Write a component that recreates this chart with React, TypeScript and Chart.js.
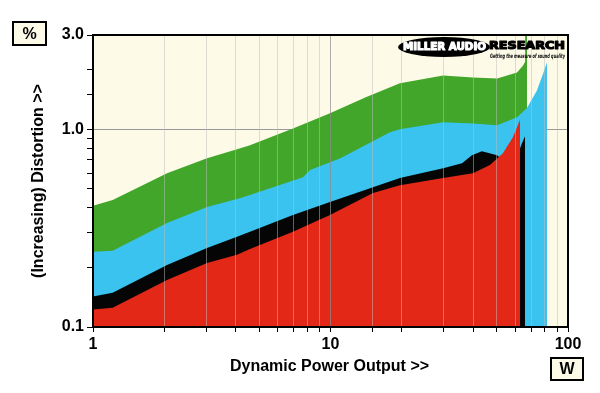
import React, { useEffect, useRef } from "react";
import { Chart, registerables } from "chart.js";

Chart.register(...registerables);

// ---- data (power in W, distortion in %) ----
const greenPower = [1.0, 1.21, 2.05, 3.02, 4.04, 4.58, 6.95, 9.95, 14.0, 19.6, 29.8, 39.8, 50.3, 61.0, 64.7, 66.0, 66.0, 67.2, 67.2];
const greenDist = [0.411, 0.439, 0.6, 0.714, 0.793, 0.83, 1.01, 1.205, 1.45, 1.71, 1.87, 1.83, 1.81, 1.94, 2.1, 2.2, 3.0, 3.0, 0.1];

const cyanPower = [1.0, 1.21, 2.05, 3.02, 4.04, 4.58, 7.66, 8.2, 11.0, 17.8, 19.6, 29.8, 39.8, 50.3, 61.0, 67.2, 74.0, 78.5, 81.6, 81.6];
const cyanDist = [0.24, 0.243, 0.336, 0.405, 0.444, 0.465, 0.573, 0.622, 0.714, 0.966, 1.0, 1.085, 1.07, 1.05, 1.15, 1.28, 1.57, 1.91, 2.18, 0.1];

const blackPower = [1.0, 1.21, 2.05, 3.02, 4.04, 4.58, 6.95, 9.95, 19.6, 29.8, 35.8, 39.4, 43.4, 50.3, 53.2, 58.6, 62.8, 63.5, 65.9, 65.9];
const blackDist = [0.1425, 0.149, 0.206, 0.251, 0.286, 0.303, 0.369, 0.429, 0.567, 0.636, 0.674, 0.739, 0.775, 0.739, 0.7, 0.78, 0.8, 0.83, 0.922, 0.1];

const redPower = [1.0, 1.21, 2.05, 3.02, 4.04, 4.58, 6.95, 9.95, 15.1, 19.6, 29.8, 39.8, 46.9, 53.2, 58.6, 62.8, 62.8];
const redDist = [0.1225, 0.125, 0.173, 0.211, 0.232, 0.248, 0.303, 0.369, 0.476, 0.522, 0.567, 0.6, 0.659, 0.757, 0.911, 1.12, 0.1];

const xTickLabels = [1, 10, 100];
const yTickLabels = [0.1, 1, 3];
const xMin = 1, xMax = 100, yMin = 0.1, yMax = 3.0;

const xTitle = "Dynamic Power Output >>";
const yTitle = "(Increasing) Distortion >>";
const yUnit = "%";
const xUnit = "W";
const logoA = "MILLER AUDIO";
const logoB = "RESEARCH";
const logoTag = "Getting the measure of sound quality";

const CREAM = "#fdfae8";
const GREEN = "#42a62a";
const CYAN = "#3ac3ee";
const BLACK = "#050505";
const RED = "#e42817";
const FONT = '"Liberation Sans", Arial, sans-serif';

const zip = (xs: number[], ys: number[]) => xs.map((x, i) => ({ x, y: ys[i] }));
const near = (a: number, b: number) => Math.abs(a - b) < 1e-6 * Math.max(1, b);

function fitText(ctx: CanvasRenderingContext2D, text: string, left: number, width: number, y: number, font: string, color: string, heavy = 0) {
  ctx.save();
  ctx.font = font;
  const m = ctx.measureText(text).width;
  ctx.translate(left, y);
  ctx.scale(width / m, 1);
  ctx.fillStyle = color;
  ctx.textAlign = "left";
  ctx.textBaseline = "middle";
  if (heavy > 0) {
    ctx.strokeStyle = color;
    ctx.lineWidth = heavy;
    ctx.lineJoin = "round";
    ctx.strokeText(text, 0, 0);
  }
  ctx.fillText(text, 0, 0);
  ctx.restore();
}

function unitBox(ctx: CanvasRenderingContext2D, x: number, y: number, w: number, h: number, t: string) {
  ctx.save();
  ctx.fillStyle = CREAM;
  ctx.fillRect(x, y, w, h);
  ctx.lineWidth = 2;
  ctx.strokeStyle = "#000";
  ctx.strokeRect(x, y, w, h);
  ctx.fillStyle = "#000";
  ctx.font = `bold 16px ${FONT}`;
  ctx.textAlign = "center";
  ctx.textBaseline = "middle";
  ctx.fillText(t, x + w / 2, y + h / 2 + 1);
  ctx.restore();
}

const decor = {
  id: "decor",
  beforeDraw(chart: any) {
    const { ctx, chartArea: a } = chart;
    ctx.save();
    ctx.fillStyle = "#fff";
    ctx.fillRect(0, 0, chart.width, chart.height);
    ctx.fillStyle = CREAM;
    ctx.fillRect(a.left, a.top, a.right - a.left, a.bottom - a.top);
    ctx.restore();
  },
  afterDraw(chart: any) {
    const { ctx, chartArea: a } = chart;
    ctx.save();
    // logo
    ctx.fillStyle = "#000";
    ctx.beginPath();
    ctx.ellipse(444, 47, 46, 10, 0, 0, Math.PI * 2);
    ctx.fill();
    fitText(ctx, logoA, 403, 83, 47, `bold 11px "DejaVu Sans", sans-serif`, "#fff", 1.2);
    fitText(ctx, logoB, 489, 76, 46.5, `bold 11px "DejaVu Sans", sans-serif`, "#000", 1.2);
    fitText(ctx, logoTag, 490, 75, 56, `italic bold 6px "DejaVu Sans", sans-serif`, "#000");
    // frame
    ctx.lineWidth = 2;
    ctx.strokeStyle = "#000";
    ctx.strokeRect(a.left, a.top, a.right - a.left, a.bottom - a.top);
    // titles
    ctx.fillStyle = "#000";
    ctx.font = `bold 16px ${FONT}`;
    ctx.textAlign = "center";
    ctx.textBaseline = "middle";
    ctx.fillText(xTitle, (a.left + a.right) / 2 - 1, 367);
    ctx.save();
    ctx.translate(39, 181);
    ctx.rotate(-Math.PI / 2);
    ctx.fillText(yTitle, 0, 0);
    ctx.restore();
    ctx.restore();
    unitBox(ctx, 13, 22, 33, 23, yUnit);
    unitBox(ctx, 551, 358, 32, 22, xUnit);
  },
};

export default function App() {
  const ref = useRef<HTMLCanvasElement | null>(null);
  useEffect(() => {
    if (!ref.current) return;
    const mk = (data: any[], color: string, order: number) => ({
      data,
      backgroundColor: color,
      borderColor: color,
      borderWidth: 0,
      pointRadius: 0,
      tension: 0,
      fill: "start",
      order,
    });
    const chart = new Chart(ref.current, {
      type: "line",
      data: {
        datasets: [
          mk(zip(redPower, redDist), RED, 1),
          mk(zip(blackPower, blackDist), BLACK, 2),
          mk(zip(cyanPower, cyanDist), CYAN, 3),
          mk(zip(greenPower, greenDist), GREEN, 4),
        ] as any,
      },
      options: {
        responsive: false,
        animation: false,
        devicePixelRatio: 1,
        layout: { padding: { left: 0, top: 35, right: 32, bottom: 0 } },
        plugins: { legend: { display: false }, tooltip: { enabled: false } },
        scales: {
          x: {
            type: "logarithmic",
            min: xMin,
            max: xMax,
            border: { display: false },
            grid: {
              z: 1,
              color: (c: any) => (c.tick && near(c.tick.value, 10) ? "rgba(140,140,140,0.7)" : "rgba(190,190,190,0.5)"),
              tickColor: "#000",
              tickLength: 5,
              lineWidth: 1,
            },
            ticks: {
              autoSkip: false,
              maxRotation: 0,
              padding: 3,
              color: "#000",
              font: { family: FONT, size: 16, weight: "bold" },
              callback: (v: any) => {
                const t = xTickLabels.find((l) => near(Number(v), l));
                return t !== undefined ? String(t) : "";
              },
            },
            afterFit: (s: any) => { s.height = 66; },
          },
          y: {
            type: "logarithmic",
            min: yMin,
            max: yMax,
            border: { display: false },
            grid: {
              color: (c: any) => (c.tick && near(c.tick.value, 1) ? "#999999" : "rgba(0,0,0,0)"),
              tickColor: "#000",
              tickLength: 6,
              lineWidth: 1,
            },
            ticks: {
              autoSkip: false,
              padding: 3,
              color: "#000",
              font: { family: FONT, size: 16, weight: "bold" },
              callback: (v: any) => {
                const t = yTickLabels.find((l) => near(Number(v), l));
                return t !== undefined ? t.toFixed(1) : "";
              },
            },
            afterFit: (s: any) => { s.width = 93; },
          },
        },
      } as any,
      plugins: [decor],
    });
    return () => chart.destroy();
  }, []);
  return (
    <div style={{ position: "absolute", left: 0, top: 0, width: 600, height: 393, background: "#fff" }}>
      <canvas ref={ref} width={600} height={393} style={{ display: "block" }} />
    </div>
  );
}
